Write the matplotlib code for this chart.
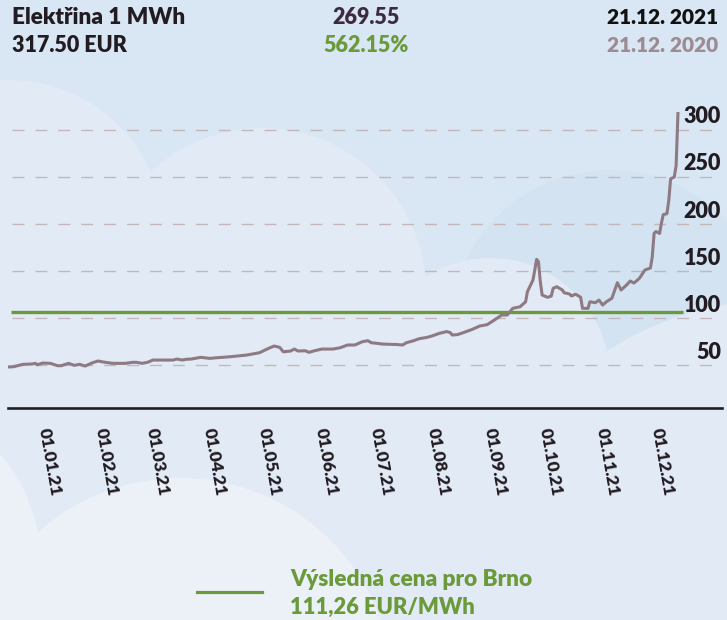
import numpy as np
import pandas as pd
import matplotlib
matplotlib.use("Agg")
import matplotlib.pyplot as plt
from matplotlib.patches import Circle, Rectangle
from matplotlib.lines import Line2D
from matplotlib.transforms import ScaledTranslation

# ---------------- data ----------------
start_date = "2020-12-21"
day_offsets = [0, 3, 8, 13, 15, 16, 19, 23, 27, 29, 33, 36, 39, 42, 46, 49, 52, 57, 64, 68,
               70, 73, 76, 79, 87, 90, 92, 95, 97, 100, 105, 110, 114, 121, 130, 137, 142, 145,
               148, 150, 154, 156, 158, 162, 164, 167, 171, 177, 181, 185, 189, 193, 196, 198,
               201, 204, 212, 215, 217, 221, 224, 228, 231, 235, 239, 241, 242, 245, 248, 253,
               257, 261, 265, 269, 272, 275, 279, 282, 283, 286, 287, 288, 289, 290, 291, 294,
               296, 297, 299, 302, 303, 306, 307, 309, 310, 312, 313, 316, 317, 320, 322, 324,
               326, 329, 332, 334, 337, 339, 341, 344, 347, 350, 351, 352, 353, 355, 356, 357,
               359, 360, 361, 362, 363, 364, 365]
price_eur = [47.95, 48.2, 50.7, 51.1, 51.8, 50.3, 52.1, 51.8, 49.3, 49.3, 51.8, 49.7, 50.7, 48.9,
             52.4, 54.3, 53.2, 51.8, 51.8, 52.9, 52.9, 51.8, 52.9, 55.3, 55.3, 55.3, 56.4, 55.3,
             56.1, 56.4, 58.2, 57.1, 57.8, 58.8, 60.6, 63.1, 67.8, 70.2, 68.8, 64.1, 64.9, 67.0,
             64.9, 65.2, 63.5, 65.2, 67.0, 67.0, 68.4, 71.3, 71.3, 74.8, 75.9, 73.7, 73.1, 72.3,
             71.8, 71.3, 73.7, 75.9, 78.0, 79.3, 80.9, 83.7, 85.6, 84.4, 81.9, 82.4, 84.4, 88.0,
             91.5, 92.9, 97.9, 103.2, 103.2, 110.3, 112.0, 117.3, 128.0, 140.4, 151.1, 162.4,
             160.0, 139.0, 124.5, 122.0, 123.4, 131.6, 133.3, 129.8, 126.9, 125.5, 123.4, 125.2,
             124.5, 122.0, 110.3, 110.3, 117.3, 116.3, 119.1, 113.8, 117.3, 121.0, 137.6, 129.8,
             135.1, 139.4, 137.2, 142.2, 151.1, 153.2, 164.9, 190.0, 192.0, 190.0, 201.0, 210.0,
             211.0, 225.0, 248.0, 249.0, 250.0, 262.0, 317.5]
month_ticks = ["2021-01-01", "2021-02-01", "2021-03-01", "2021-04-01", "2021-05-01", "2021-06-01",
               "2021-07-01", "2021-08-01", "2021-09-01", "2021-10-01", "2021-11-01", "2021-12-01"]
month_labels = ["01.01.21", "01.02.21", "01.03.21", "01.04.21", "01.05.21", "01.06.21",
                "01.07.21", "01.08.21", "01.09.21", "01.10.21", "01.11.21", "01.12.21"]
y_ticks = [50, 100, 150, 200, 250, 300]
y_labels = ["50", "100", "150", "200", "250", "300"]
brno_level = 106          # level at which the reference line is drawn
brno_label = ["Výsledná cena pro Brno", "111,26 EUR/MWh"]
header_title = "Elektřina 1 MWh"
date_now = "21.12. 2021"
date_prev = "21.12. 2020"

# ---------------- style ----------------
plt.rcParams["font.family"] = ["Lato", "DejaVu Sans"]
plt.rcParams["lines.scale_dashes"] = False
WEIGHT = "heavy"

W, H = 727, 620
SKY = "#d9e6f3"
SKY2 = "#d3e3f2"
CLOUD = "#e2eaf5"
CLOUD2 = "#ecf1f8"
LINE = "#8e7a82"
GREEN = "#6b9a3b"
DARK = "#221c22"
GRID = "#c3b7b9"

fig = plt.figure(figsize=(W / 100, H / 100), dpi=100, facecolor=SKY)


def inch(x, y):
    return (x / 100, (H - y) / 100)


def circ(x, y, r, c):
    fig.patches.append(Circle(inch(x, y), r / 100, transform=fig.dpi_scale_trans,
                              facecolor=c, edgecolor="none", zorder=-10))


def rect(x0, y0, x1, y1, c):
    fig.patches.append(Rectangle(inch(x0, y1), (x1 - x0) / 100, (y1 - y0) / 100,
                                 transform=fig.dpi_scale_trans, facecolor=c,
                                 edgecolor="none", zorder=-10))


# background decoration
circ(610, 330, 160, SKY2)
circ(10, 234, 154, CLOUD)
circ(262, 292, 164, CLOUD)
rect(0, 250, 420, 620, CLOUD)
circ(490, 378, 120, CLOUD)
circ(780, 620, 320, CLOUD)
rect(380, 420, 727, 620, CLOUD)
circ(-120, 560, 160, CLOUD2)
circ(180, 691, 213, CLOUD2)

# ---------------- axes ----------------
ax = fig.add_axes([8 / W, (H - 408) / H, (722 - 8) / W, (408 - 100) / H])
ax.set_facecolor("none")

t0 = pd.Timestamp(start_date)
dates = t0 + pd.to_timedelta(day_offsets, unit="D")
ax.set_xlim(t0, t0 + pd.Timedelta(days=389))
ax.set_ylim(4.3, 331.9)

for v in y_ticks:
    ax.axhline(v, xmin=4 / 714, xmax=1, color=GRID, lw=1.0,
               linestyle=(0, (8.6, 7.9)), zorder=1)

ax.hlines(brno_level, t0 + pd.Timedelta(days=1.6), t0 + pd.Timedelta(days=367.6),
          color=GREEN, lw=2.4, zorder=2)
ax.plot(dates, price_eur, color=LINE, lw=2.2, zorder=3, solid_joinstyle="round")

for s in ["top", "left", "right"]:
    ax.spines[s].set_visible(False)
ax.spines["bottom"].set_color("#231f20")
ax.spines["bottom"].set_linewidth(1.9)

ax.set_yticks(y_ticks)
ax.set_yticklabels(y_labels)
ax.yaxis.tick_right()
ax.tick_params(axis="y", length=0, pad=-0.7, labelsize=15.5, labelcolor=DARK)
for lab in ax.get_yticklabels():
    lab.set_ha("right")
    lab.set_fontweight(WEIGHT)
    lab.set_transform(lab.get_transform() + ScaledTranslation(0, 0.15, fig.dpi_scale_trans))

ax.set_xticks(pd.to_datetime(month_ticks))
ax.set_xticklabels(month_labels, rotation=-80, ha="center", va="top")
ax.tick_params(axis="x", length=0, pad=13.7, labelsize=12.5, labelcolor=DARK)
for lab in ax.get_xticklabels():
    lab.set_fontweight(WEIGHT)
    lab.set_transform(lab.get_transform() + ScaledTranslation(0.21, 0, fig.dpi_scale_trans))

# ---------------- header ----------------
first, last = price_eur[0], price_eur[-1]
change = last - first
pct = change / first * 100


def ftext(x, y, s, size=15.5, **kw):
    fig.text(x / W, 1 - y / H, s, fontsize=size, fontweight=WEIGHT, va="center", **kw)


ftext(12, 18, header_title, size=16.2, ha="left", color=DARK)
ftext(12, 46, f"{last:.2f} EUR", ha="left", color=DARK)
ftext(366, 18, f"{change:.2f}", ha="center", color="#3d2b40")
ftext(366, 46, f"{pct:.2f}%", ha="center", color=GREEN)
ftext(718, 18, date_now, size=15, ha="right", color="#111111")
ftext(718, 46, date_prev, size=15, ha="right", color="#9c8b92")

# ---------------- legend ----------------
fig.add_artist(Line2D([197 / W, 262 / W], [1 - 592 / H, 1 - 592 / H], color=GREEN, lw=2.3))
ftext(290, 580, brno_label[0], size=16.3, ha="left", color=GREEN)
ftext(290, 607, brno_label[1], size=15.8, ha="left", color=GREEN)

fig.savefig("out.png", dpi=100, facecolor=SKY)
